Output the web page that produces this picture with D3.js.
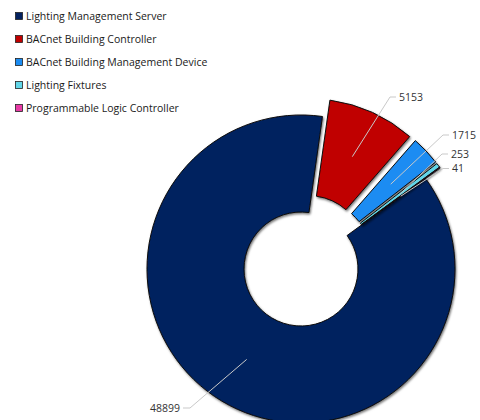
<!DOCTYPE html>
<html>
<head>
<meta charset="utf-8">
<script src="https://cdn.jsdelivr.net/npm/d3@7"></script>
<style>
  html, body { margin: 0; padding: 0; background: #ffffff; }
  svg { display: block; }
  text { font-family: "Open Sans", "DejaVu Sans", sans-serif; }
</style>
</head>
<body>
<svg id="chart" width="480" height="420"></svg>
<script>
// Device counts by type
const categories = [
  "Lighting Management Server",
  "BACnet Building Controller",
  "BACnet Building Management Device",
  "Lighting Fixtures",
  "Programmable Logic Controller"
];
const values = [48899, 5153, 1715, 253, 41];
const colors = ["#03215f", "#c00000", "#1b8cf2", "#62d6e8", "#e83aa6"];

// Layout
const W = 480, H = 420;
const cx = 301, cy = 269;
const outerR = 154, innerR = 57;
const explode = [0, 18, 18, 18, 18];
const firstSliceAngle = 54 * Math.PI / 180;
// where each leader line ends (elbow point) and which side the label sits
const labelAnchors = [
  { x: 190, y: 408, side: "left" },
  { x: 390, y: 97, side: "right" },
  { x: 443, y: 135, side: "right" },
  { x: 442, y: 154, side: "right" },
  { x: 443, y: 168.5, side: "right" }
];

const svg = d3.select("#chart");

const defs = svg.append("defs");
const shadow = defs.append("filter").attr("id", "shadow")
  .attr("x", "-20%").attr("y", "-20%").attr("width", "140%").attr("height", "140%");
shadow.append("feDropShadow").attr("dx", 1).attr("dy", 1.5)
  .attr("stdDeviation", 1.2).attr("flood-color", "#000").attr("flood-opacity", 0.55);

const pie = d3.pie().sort(null).value(d => d)
  .startAngle(firstSliceAngle).endAngle(firstSliceAngle + 2 * Math.PI);
const arcs = pie(values);
const arc = d3.arc().innerRadius(innerR).outerRadius(outerR);

function offset(d, i) {
  const mid = (d.startAngle + d.endAngle) / 2;
  return [Math.sin(mid) * explode[i], -Math.cos(mid) * explode[i]];
}

const g = svg.append("g").attr("transform", `translate(${cx},${cy})`);

g.selectAll("path.slice")
  .data(arcs)
  .join("path")
  .attr("class", "slice")
  .attr("transform", (d, i) => { const o = offset(d, i); return `translate(${o[0]},${o[1]})`; })
  .attr("d", arc)
  .attr("fill", (d, i) => colors[i])
  .attr("stroke", "#0b0b0b")
  .attr("stroke-width", 1)
  .attr("filter", "url(#shadow)");

// Leader lines and value labels
arcs.forEach((d, i) => {
  const o = offset(d, i);
  const c = arc.centroid(d);
  const sx = c[0] + o[0], sy = c[1] + o[1];
  const a = labelAnchors[i];
  const ex = a.x - cx, ey = a.y - cy;
  const tick = a.side === "left" ? -7 : 6;
  g.append("polyline")
    .attr("points", [[sx, sy], [ex, ey], [ex + tick, ey]].map(p => p.join(",")).join(" "))
    .attr("fill", "none")
    .attr("stroke", "#c9c9c9")
    .attr("stroke-width", 1);
  g.append("text")
    .attr("x", ex + tick + (a.side === "left" ? -3 : 3))
    .attr("y", ey)
    .attr("dy", "0.35em")
    .attr("text-anchor", a.side === "left" ? "end" : "start")
    .attr("font-size", 10.5)
    .attr("fill", "#333333")
    .text(d3.format("d")(values[i]));
});

// Legend
const legend = svg.append("g").attr("transform", "translate(15,16)");
const rows = legend.selectAll("g").data(categories).join("g")
  .attr("transform", (d, i) => `translate(0,${i * 23})`);
rows.append("rect")
  .attr("x", 0.5).attr("y", -3.5).attr("width", 7).attr("height", 7)
  .attr("fill", (d, i) => colors[i])
  .attr("stroke", "#222").attr("stroke-width", 0.8);
rows.append("text")
  .attr("x", 11).attr("y", 0).attr("dy", "0.35em")
  .attr("font-size", 10.5)
  .attr("fill", "#1a1a1a")
  .text(d => d);
</script>
</body>
</html>
